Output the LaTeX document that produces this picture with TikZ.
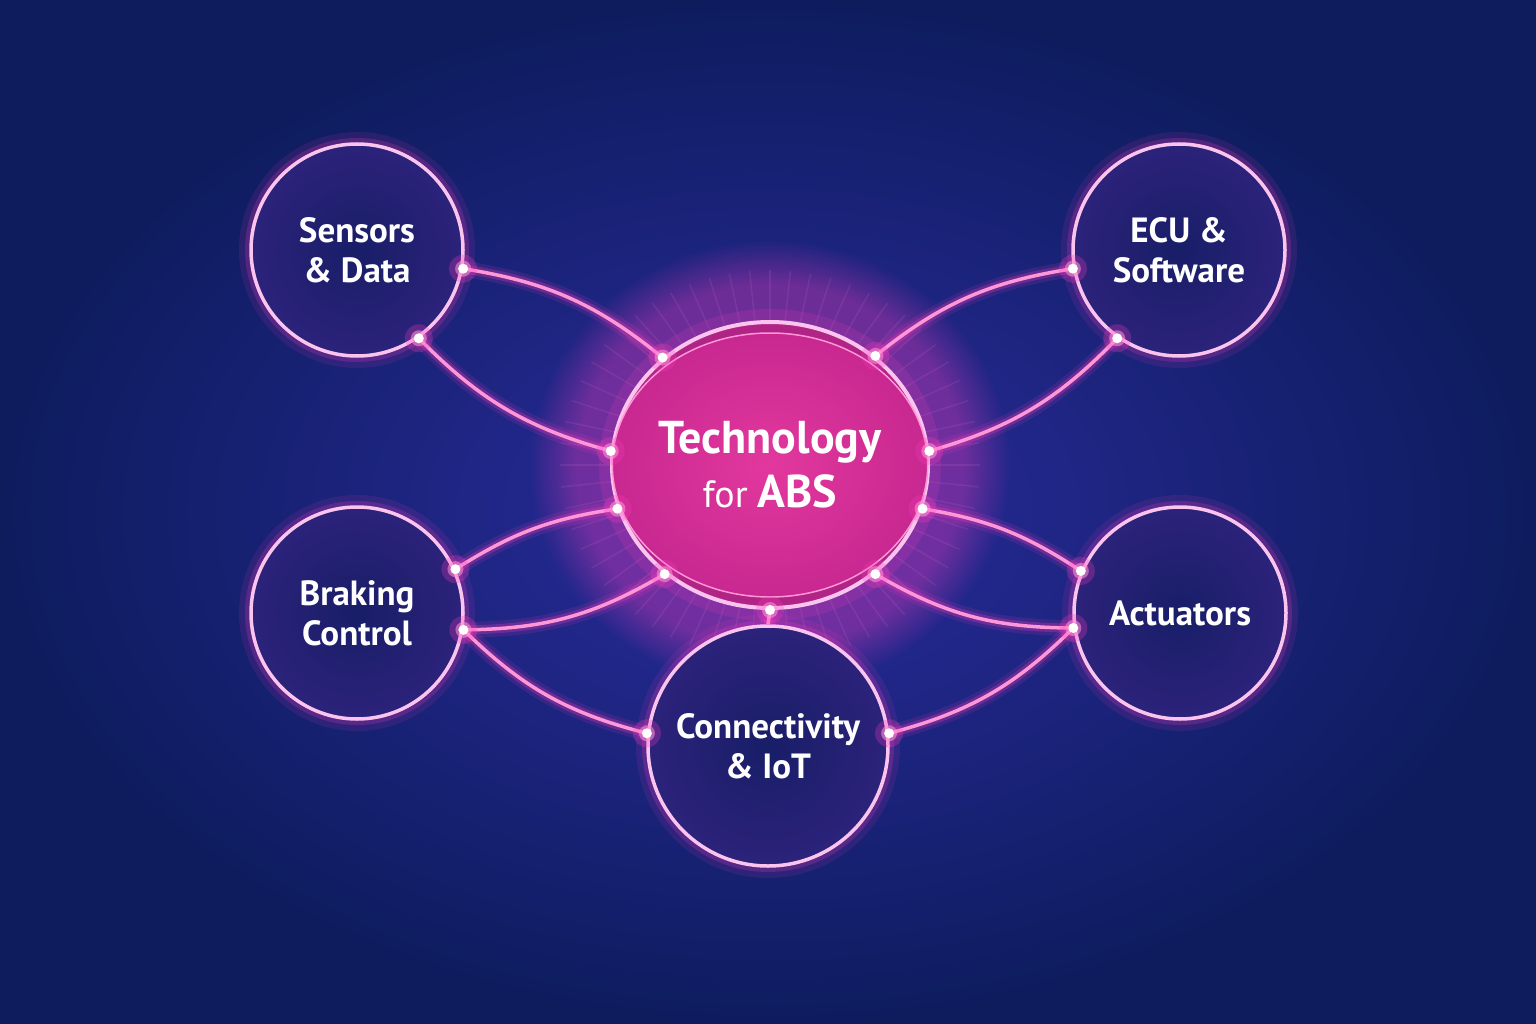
\documentclass[tikz,border=0pt]{standalone}
\usepackage{fontspec}
\setmainfont{PT Sans}
\usepackage{tikz}
\usetikzlibrary{shapes.geometric,fadings}
\definecolor{bgedge}{RGB}{14,28,94}
\definecolor{bgmid}{RGB}{42,44,158}
\definecolor{navyin}{RGB}{24,30,104}
\definecolor{navyout}{RGB}{44,34,122}
\definecolor{ringpink}{RGB}{250,196,238}
\definecolor{wirepink}{RGB}{255,150,215}
\definecolor{glowpink}{RGB}{255,60,190}
\definecolor{hubin}{RGB}{226,56,158}
\definecolor{hubout}{RGB}{200,40,144}
\definecolor{hubband}{RGB}{176,36,134}
\newcommand{\glowpt}[1]{%
  \fill[glowpink, opacity=.25] (#1) circle (14);
  \fill[wirepink, opacity=.55] (#1) circle (8);
  \fill[white] (#1) circle (5);}

\begin{document}
\begin{tikzpicture}[x=1pt,y=-1pt]
  \tikzstyle{topic}=[circle, minimum size=212, inner sep=0pt, draw=ringpink,
      line width=3.5, inner color=navyin, outer color=navyout, text=white,
      align=center, font=\fontsize{35}{40}\selectfont\bfseries,
      preaction={draw=glowpink, line width=24, opacity=.10},
      preaction={draw=glowpink, line width=12, opacity=.20}]
  \tikzstyle{wire}=[draw=wirepink, line width=3.5,
      preaction={draw=glowpink, line width=16, opacity=.12},
      preaction={draw=glowpink, line width=9, opacity=.25}]

  % background
  \useasboundingbox (0,0) rectangle (1536,1024);
  \shade[inner color=bgmid, outer color=bgedge] (0,0) rectangle (1536,1024);
  \coordinate (mid) at (770,465);
  \fill[glowpink, opacity=.35, path fading=circle with fuzzy edge 20 percent]
    (mid) ellipse (240 and 225);

  % rays round the hub
  \node[ellipse, minimum width=316, minimum height=286] (inner) at (mid) {};
  \node[ellipse, minimum width=420, minimum height=390] (halo) at (mid) {};
  \foreach \a in {0,6,...,354}
    \draw[wirepink, opacity=.10, line width=1.5] (inner.\a) -- (halo.\a);

  % nodes
  \node[topic]               (sens) at (357,250)  {Sensors\\\& Data};
  \node[topic]               (ecu)  at (1179,250) {ECU \&\\Software};
  \node[topic]               (brk)  at (357,613)  {Braking\\Control};
  \node[topic]               (act)  at (1180,613) {Actuators};
  \node[topic, minimum width=240, minimum height=210]
                             (conn) at (768,746)  {Connectivity\\\& IoT};

  % hub
  \node[ellipse, minimum width=316, minimum height=286, inner sep=0pt,
        draw=ringpink, line width=4, fill=hubband,
        preaction={draw=glowpink, line width=26, opacity=.15}] (hub) at (mid) {};
  \node[ellipse, minimum width=292, minimum height=264, inner sep=0pt,
        inner color=hubin, outer color=hubout, draw=wirepink, line width=1.5,
        text=white, align=center, font=\fontsize{46}{54}\selectfont] (core) at (hub)
        {\bfseries Technology\\
         {\fontsize{38}{54}\selectfont for }\bfseries ABS};

  % wires
  \draw[wire] (sens.-10) to[bend left=15]  (hub.135);
  \draw[wire] (sens.-55) to[bend right=15] (hub.175);
  \draw[wire] (ecu.190)  to[bend right=15] (hub.46);
  \draw[wire] (ecu.235)  to[bend left=15]  (hub.5);
  \draw[wire] (brk.24)   to[bend left=12]  (hub.196);
  \draw[wire] (brk.-9)   to[bend right=15] (hub.226);
  \draw[wire] (brk.-9)   to[bend right=15] (conn.174);
  \draw[wire] (act.157)  to[bend right=12] (hub.-16);
  \draw[wire] (act.188)  to[bend left=15]  (hub.-46);
  \draw[wire] (act.188)  to[bend left=15]  (conn.6);
  \draw[wire] (hub.-90) -- (conn.90);

  % glowing joints
  \foreach \p in {sens.-10, sens.-55, hub.135, hub.175, ecu.190, ecu.235,
                  hub.46, hub.5, brk.24, brk.-9, hub.196, hub.226,
                  act.157, act.188, hub.-16, hub.-46, conn.174, conn.6, hub.-90}
    \glowpt{\p};
\end{tikzpicture}
\end{document}
